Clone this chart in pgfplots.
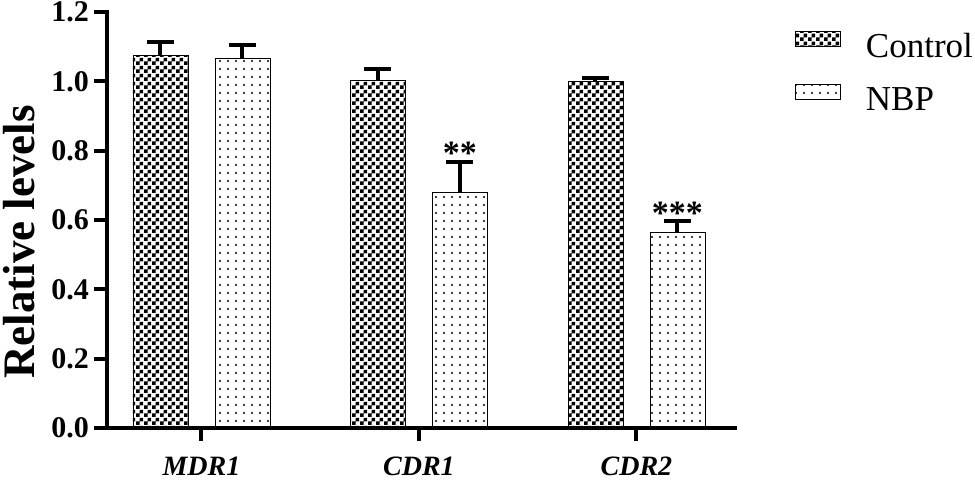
\documentclass[border=0pt]{standalone}
\usepackage{fontspec}
\setmainfont{Liberation Serif}
\usepackage{pgfplots}
\pgfplotsset{compat=1.18}
\usetikzlibrary{patterns}

\pgfdeclarepatternformonly{bigchecker}{\pgfpointorigin}{\pgfqpoint{8pt}{8pt}}{\pgfqpoint{8pt}{8pt}}{%
  \pgfpathrectangle{\pgfpointorigin}{\pgfqpoint{4pt}{4pt}}%
  \pgfpathrectangle{\pgfqpoint{4pt}{4pt}}{\pgfqpoint{4pt}{4pt}}%
  \pgfusepath{fill}}
\pgfdeclarepatternformonly{bigdots}{\pgfqpoint{-1pt}{-1pt}}{\pgfqpoint{9pt}{9pt}}{\pgfqpoint{8pt}{8pt}}{%
  \pgfpathcircle{\pgfqpoint{4pt}{4pt}}{1.2pt}%
  \pgfusepath{fill}}

\pgfplotstableread{
x   y      e
0   1.074  0.039
1   1.002  0.033
2   1.000  0.011
}\control
\pgfplotstableread{
x   y      e
0   1.065  0.039
1   0.679  0.087
2   0.564  0.032
}\nbp

\begin{document}
\begin{tikzpicture}
\useasboundingbox (-107pt,-53pt) rectangle (868pt,428pt);
\begin{axis}[
  at={(0pt,0pt)}, anchor=south west,
  scale only axis, width=628pt, height=416pt,
  xmin=-0.434, xmax=2.453, ymin=0, ymax=1.2,
  axis x line*=bottom, axis y line*=left,
  axis line style={line width=4.5pt, -, line cap=rect, black},
  ybar, bar width=55pt,
  xtick={0,1,2}, xticklabels={MDR1,CDR1,CDR2},
  ytick={0,0.2,0.4,0.6,0.8,1.0,1.2},
  tick align=outside, major tick length=13pt,
  tick style={line width=4pt, black},
  minor tick num=0,
  /pgf/number format/assume math mode=true,
  yticklabel style={font=\fontsize{30}{30}\selectfont\bfseries, inner sep=5pt,
    /pgf/number format/.cd, fixed, fixed zerofill, precision=1},
  xticklabel style={font=\fontsize{28}{28}\selectfont\bfseries\itshape, inner sep=0pt, yshift=-16pt},
  ylabel={Relative levels},
  ylabel style={font=\fontsize{45}{45}\selectfont\bfseries, at={(axis description cs:-0.1140,0.447)}, anchor=south, inner sep=0pt},
  legend style={draw=none, fill=none, at={(axis description cs:1.0955,0.955)}, anchor=north west,
    font=\fontsize{35}{35}\selectfont, inner sep=0pt, row sep=25pt,
    nodes={inner sep=0pt},
    /tikz/every odd column/.append style={column sep=25pt}},
  legend cell align=left,
  legend image code/.code={\draw[#1, line width=0.8pt] (0pt,0pt) rectangle (45pt,15pt);},
  clip=false,
]
\addplot[bar shift=-41pt, draw=black, line width=0.8pt, pattern=bigchecker,
  error bars/.cd, y dir=plus, y explicit,
  error bar style={line width=4pt, black},
  error mark options={line width=4pt, mark size=13.5pt, black, rotate=90}]
  table[x=x, y=y, y error=e] {\control};
\addlegendentry{Control}
\addplot[bar shift=41pt, draw=black, line width=0.8pt, pattern=bigdots,
  error bars/.cd, y dir=plus, y explicit,
  error bar style={line width=4pt, black},
  error mark options={line width=4pt, mark size=13.5pt, black, rotate=90}]
  table[x=x, y=y, y error=e] {\nbp};
\addlegendentry{NBP}
\node[anchor=north, inner sep=0pt, font=\fontsize{34}{34}\selectfont\bfseries] at (axis cs:1,0.826) [xshift=41pt] {**};
\node[anchor=north, inner sep=0pt, font=\fontsize{34}{34}\selectfont\bfseries] at (axis cs:2,0.653) [xshift=41pt] {***};
\end{axis}
\end{tikzpicture}
\end{document}
